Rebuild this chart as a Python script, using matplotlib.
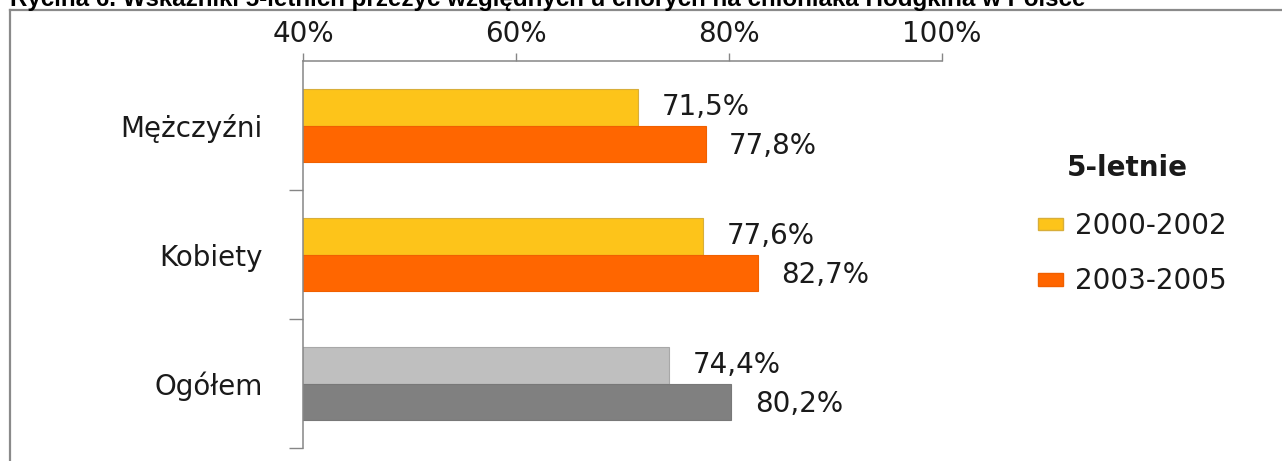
import matplotlib
matplotlib.use("Agg")
import matplotlib.pyplot as plt
from matplotlib.patches import Patch
from matplotlib.lines import Line2D
import numpy as np

# ---- data ----
title_text = "Rycina 6. Wskaźniki 5-letnich przeżyć względnych u chorych na chłoniaka Hodgkina w Polsce"
categories = ["Mężczyźni", "Kobiety", "Ogółem"]
period_labels = ["2000-2002", "2003-2005"]
legend_title = "5-letnie"
values_early = [71.5, 77.6, 74.4]
values_late = [77.8, 82.7, 80.2]
colors_early = ["#FDC41A", "#FDC41A", "#BFBFBF"]
colors_late = ["#FF6600", "#FF6600", "#808080"]
edges_early = ["#D8AE3A", "#D8AE3A", "#A8A8A8"]
edges_late = ["#F06000", "#F06000", "#787878"]
x_ticks = [40, 60, 80, 100]

W, H = 1282, 461
fig = plt.figure(figsize=(W / 100, H / 100), dpi=100)
fig.patch.set_facecolor("white")

ax = fig.add_axes([303 / W, 1 - 448 / H, (942 - 303) / W, (448 - 61) / H])

FONT = "DejaVu Sans"
FS = 20
GRAY = "#868686"

y = np.arange(len(categories))
bh = 0.285
ax.barh(y - bh / 2, values_early, height=bh, color=colors_early,
        edgecolor=edges_early, linewidth=0.8)
ax.barh(y + bh / 2, values_late, height=bh, color=colors_late,
        edgecolor=edges_late, linewidth=0.8)

def fmt(v):
    return f"{v:.1f}".replace(".", ",") + "%"

for yi, v in zip(y - bh / 2, values_early):
    ax.annotate(fmt(v), xy=(v, yi), xytext=(17, 0), textcoords="offset points",
                va="center", ha="left", fontsize=FS, family=FONT, color="#1a1a1a")
for yi, v in zip(y + bh / 2, values_late):
    ax.annotate(fmt(v), xy=(v, yi), xytext=(17, -1.5), textcoords="offset points",
                va="center", ha="left", fontsize=FS, family=FONT, color="#1a1a1a")

ax.set_xlim(40, 100)
ax.set_ylim(len(categories) - 0.5, -0.5)

ax.xaxis.tick_top()
ax.set_xticks(x_ticks)
ax.set_xticklabels([f"{t}%" for t in x_ticks], fontsize=FS, family=FONT, color="#1a1a1a")
ax.tick_params(axis="x", which="major", direction="out", length=6, width=1,
               color=GRAY, pad=3)

ax.set_yticks(y)
ax.set_yticklabels(categories, fontsize=FS, family=FONT, color="#1a1a1a")
ax.tick_params(axis="y", which="major", length=0, pad=29)
ax.set_yticks(y + 0.5, minor=True)
ax.tick_params(axis="y", which="minor", direction="out", length=10, width=1, color=GRAY)

for s in ["right", "bottom"]:
    ax.spines[s].set_visible(False)
for s in ["top", "left"]:
    ax.spines[s].set_color(GRAY)
    ax.spines[s].set_linewidth(1.1)

# legend
handles = [Patch(facecolor=colors_early[0], edgecolor=edges_early[0]),
           Patch(facecolor=colors_late[0], edgecolor=edges_late[0])]
leg = ax.legend(handles, period_labels, loc="upper left",
                bbox_to_anchor=(1038 / W, 1 - 212 / H), bbox_transform=fig.transFigure,
                frameon=False, borderpad=0, borderaxespad=0,
                handlelength=0.9, handleheight=0.33, handletextpad=0.43,
                labelspacing=0.98, prop={"family": FONT, "size": FS})
for t in leg.get_texts():
    t.set_color("#1a1a1a")
fig.text(1067 / W, 1 - 168 / H, legend_title, ha="left", va="center",
         fontsize=FS, family=FONT, weight="bold", color="#1a1a1a")

# outer frame
fig.add_artist(Line2D([10 / W, 10 / W], [0, 1 - 10 / H], transform=fig.transFigure,
                      color="#8a8a8a", lw=1.6))
fig.add_artist(Line2D([10 / W, 1], [1 - 10 / H, 1 - 10 / H], transform=fig.transFigure,
                      color="#8a8a8a", lw=1.6))

# title (cropped at top in the reference)
fig.text(10 / W, 1 - 6 / H, title_text, ha="left", va="baseline",
         fontsize=17.4, family="Liberation Sans", weight="bold", color="black")

fig.savefig("out.png", dpi=100, facecolor="white")
